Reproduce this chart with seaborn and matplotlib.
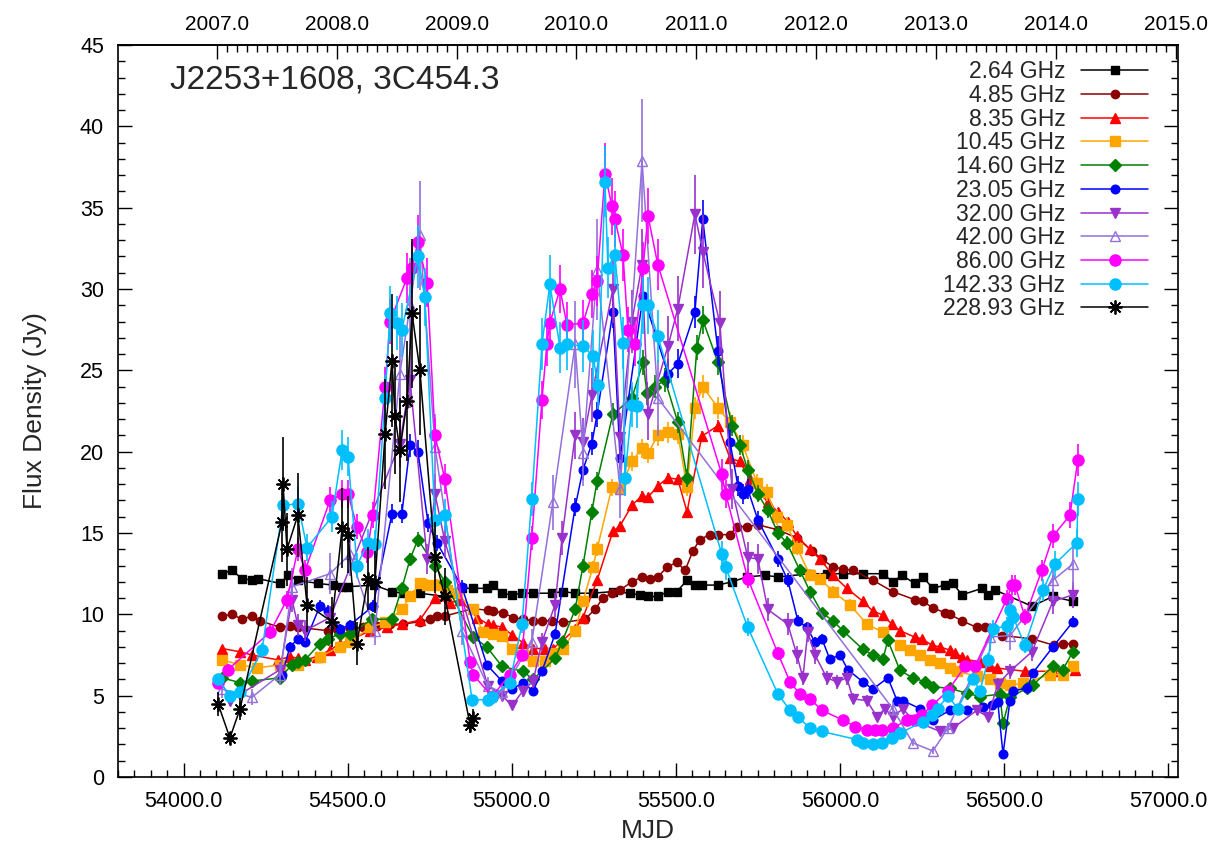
import numpy as np
import pandas as pd
import matplotlib
matplotlib.use("Agg")
import matplotlib.pyplot as plt
from matplotlib.ticker import MultipleLocator, FixedLocator, FormatStrFormatter
import seaborn as sns

# ---------------------------------------------------------------------------
# Light curves of J2253+1608 (3C454.3): MJD and flux density (Jy) per band
# ---------------------------------------------------------------------------
mjd_2_64 = [54117, 54147, 54178, 54208, 54227, 54294, 54318, 54348, 54409, 54455,
            54483, 54501, 54580, 54635, 54668, 54720, 54796, 54848, 54882, 54924,
            54943, 54970, 55001, 55031, 55065, 55122, 55156, 55193, 55247, 55308,
            55360, 55391, 55415, 55445, 55476, 55503, 55534, 55558, 55579, 55628,
            55671, 55716, 55771, 55811, 55909, 55960, 56009, 56070, 56131, 56161,
            56189, 56228, 56253, 56283, 56320, 56344, 56372, 56433, 56451, 56472,
            56585, 56649, 56710]
flux_2_64 = [12.5, 12.7, 12.2, 12.1, 12.2, 11.9, 12.4, 12.1, 11.9, 11.8,
             11.7, 11.7, 11.8, 11.4, 11.3, 11.3, 11.1, 11.6, 11.6, 11.6,
             11.8, 11.3, 11.2, 11.3, 11.3, 11.3, 11.4, 11.3, 11.3, 11.4,
             11.3, 11.2, 11.1, 11.1, 11.4, 11.4, 12.1, 11.8, 11.8, 11.8,
             12.0, 12.3, 12.4, 12.3, 12.5, 12.5, 12.5, 12.5, 12.5, 12.0,
             12.4, 11.9, 12.3, 11.6, 11.8, 11.9, 11.2, 11.6, 11.2, 11.5,
             10.5, 11.1, 10.8]

mjd_4_85 = [54117, 54147, 54178, 54208, 54233, 54294, 54324, 54348, 54440, 54467,
            54507, 54547, 54589, 54629, 54668, 54720, 54751, 54772, 54796, 54882,
            54927, 54943, 54973, 55004, 55034, 55065, 55092, 55122, 55156, 55223,
            55253, 55278, 55305, 55330, 55366, 55397, 55421, 55445, 55473, 55503,
            55528, 55552, 55573, 55603, 55628, 55665, 55686, 55716, 55750, 55811,
            55869, 55915, 55945, 55979, 56009, 56040, 56100, 56161, 56228, 56253,
            56283, 56320, 56335, 56372, 56417, 56442, 56494, 56585, 56652, 56679,
            56710]
flux_4_85 = [9.9, 10.0, 9.7, 9.9, 9.6, 9.2, 9.3, 9.2, 9.0, 9.1,
             9.15, 9.2, 9.3, 9.4, 9.4, 9.55, 9.7, 9.9, 9.9, 10.35,
             10.25, 10.2, 10.1, 9.8, 9.7, 9.6, 9.6, 9.6, 9.5, 9.7,
             10.3, 11.0, 11.3, 11.5, 12.0, 12.3, 12.2, 12.3, 12.9, 13.2,
             12.7, 13.9, 14.6, 14.9, 14.9, 14.9, 15.4, 15.4, 15.5, 15.2,
             14.7, 13.9, 13.4, 12.9, 12.8, 12.7, 12.1, 11.4, 10.9, 10.8,
             10.4, 10.1, 10.0, 9.6, 9.2, 9.2, 8.7, 8.5, 8.1, 8.2,
             8.2]

mjd_8_35 = [54117, 54172, 54208, 54288, 54324, 54348, 54370, 54406, 54446, 54476,
            54507, 54568, 54620, 54665, 54720, 54766, 54812, 54842, 54894, 54927,
            54943, 54970, 55001, 55034, 55065, 55101, 55125, 55156, 55193, 55217,
            55260, 55308, 55330, 55366, 55397, 55415, 55445, 55476, 55506, 55534,
            55579, 55628, 55665, 55695, 55725, 55750, 55780, 55811, 55841, 55869,
            55909, 55939, 55979, 56021, 56070, 56100, 56131, 56158, 56183, 56228,
            56250, 56280, 56305, 56335, 56350, 56372, 56387, 56427, 56457, 56478,
            56564, 56649, 56716]
flux_8_35 = [7.9, 7.7, 7.5, 7.2, 7.4, 7.3, 7.2, 7.4, 7.8, 8.2,
             8.4, 9.0, 9.2, 9.4, 9.65, 11.0, 10.7, 10.9, 9.8, 9.4,
             9.35, 9.2, 8.75, 8.25, 7.9, 7.9, 7.9, 8.4, 9.1, 9.8,
             12.1, 15.1, 15.45, 16.7, 17.3, 17.2, 17.9, 18.4, 18.3, 16.3,
             20.95, 21.6, 19.6, 19.4, 18.3, 17.6, 16.9, 16.3, 15.7, 14.8,
             14.0, 13.4, 12.4, 11.6, 10.8, 10.2, 9.96, 9.4, 9.0, 8.6,
             8.5, 8.1, 8.0, 7.8, 7.6, 7.4, 7.2, 7.1, 6.8, 6.7,
             6.5, 6.5, 6.6]

mjd_10_45 = [54117, 54172, 54224, 54294, 54348, 54415, 54476, 54507, 54568, 54614,
             54665, 54690, 54720, 54742, 54772, 54802, 54833, 54882, 54912, 54943,
             54970, 55001, 55034, 55065, 55101, 55125, 55156, 55193, 55217, 55247,
             55260, 55305, 55330, 55366, 55397, 55415, 55445, 55476, 55506, 55534,
             55558, 55582, 55628, 55665, 55704, 55747, 55777, 55808, 55838, 55869,
             55909, 55939, 55979, 56030, 56082, 56131, 56183, 56213, 56244, 56274,
             56305, 56335, 56356, 56417, 56457, 56487, 56518, 56558, 56640, 56679,
             56710]
flux_10_45 = [7.2, 6.9, 6.7, 6.9, 6.9, 7.4, 8.0, 8.3, 9.2, 9.5,
              10.3, 11.1, 11.9, 11.8, 11.8, 11.5, 11.3, 10.3, 8.9, 8.8,
              8.7, 7.9, 7.5, 7.15, 7.15, 7.6, 7.9, 9.0, 10.8, 12.9,
              14.0, 17.8, 17.7, 19.4, 20.2, 19.9, 21.0, 21.2, 21.1, 17.8,
              22.7, 24.0, 22.7, 21.8, 20.4, 18.1, 17.5, 16.0, 15.5, 14.1,
              12.4, 12.2, 11.4, 10.6, 9.4, 8.9, 8.1, 7.8, 7.5, 7.2,
              7.0, 6.7, 6.5, 6.2, 6.0, 5.8, 5.65, 5.75, 6.3, 6.3,
              6.8]

mjd_14_60 = [54117, 54172, 54208, 54294, 54330, 54348, 54370, 54415, 54440, 54476,
             54507, 54574, 54635, 54665, 54690, 54714, 54766, 54796, 54882, 54924,
             54970, 55034, 55065, 55132, 55153, 55193, 55217, 55244, 55260, 55308,
             55366, 55400, 55412, 55436, 55467, 55506, 55534, 55564, 55582, 55628,
             55671, 55695, 55719, 55750, 55780, 55811, 55838, 55878, 55909, 55945,
             55979, 56009, 56070, 56100, 56131, 56146, 56183, 56222, 56259, 56283,
             56335, 56387, 56427, 56487, 56497, 56518, 56570, 56588, 56649, 56679,
             56710]
flux_14_60 = [6.1, 5.8, 5.9, 6.1, 6.9, 7.1, 7.2, 8.2, 8.5, 8.8,
              8.8, 9.7, 9.7, 11.6, 13.4, 14.6, 13.0, 12.0, 8.6, 8.0,
              6.8, 6.5, 6.0, 7.3, 8.3, 10.3, 13.0, 16.3, 18.2, 22.3,
              23.3, 25.5, 23.6, 24.0, 24.4, 21.8, 18.4, 26.4, 28.1, 25.5,
              21.6, 20.4, 18.9, 17.4, 16.4, 15.0, 14.4, 12.7, 11.4, 10.1,
              9.6, 9.0, 7.85, 7.5, 7.25, 8.4, 6.55, 6.1, 5.85, 5.55,
              5.45, 5.15, 4.94, 5.1, 3.3, 4.9, 5.45, 5.66, 6.8, 6.6,
              7.7]

mjd_23_05 = [54300, 54324, 54348, 54370, 54415, 54440, 54476, 54507, 54577, 54635,
             54665, 54690, 54714, 54745, 54772, 54848, 54924, 54970, 55001, 55034,
             55065, 55092, 55132, 55193, 55217, 55244, 55260, 55308, 55330, 55400,
             55476, 55506, 55558, 55582, 55628, 55665, 55689, 55704, 55719, 55750,
             55811, 55841, 55872, 55899, 55924, 55945, 55969, 56000, 56024, 56070,
             56100, 56146, 56174, 56192, 56244, 56283, 56335, 56387, 56436, 56463,
             56481, 56497, 56518, 56527, 56570, 56588, 56649, 56710]
flux_23_05 = [6.3, 8.0, 8.5, 8.3, 10.5, 10.2, 9.1, 9.35, 10.5, 16.2,
              16.2, 20.4, 20.0, 15.6, 14.4, 11.7, 6.9, 5.9, 5.4, 5.8,
              5.3, 6.5, 8.8, 16.6, 18.9, 20.5, 22.3, 28.6, 19.6, 29.6,
              24.8, 25.4, 28.6, 34.3, 26.2, 20.6, 17.9, 17.4, 17.7, 15.8,
              13.4, 12.1, 9.6, 9.2, 8.3, 8.5, 7.25, 7.5, 6.6, 5.85,
              5.4, 6.1, 4.7, 4.7, 4.2, 3.5, 4.1, 4.1, 4.3, 4.4,
              4.6, 1.4, 4.7, 5.3, 5.45, 6.4, 8.0, 9.55]

mjd_32_00 = [54141, 54294, 54330, 54348, 54370, 54446, 54659, 54690, 54742, 54766,
             54796, 54927, 54970, 55001, 55034, 55065, 55092, 55132, 55153, 55193,
             55217, 55244, 55308, 55330, 55366, 55397, 55415, 55476, 55506, 55558,
             55582, 55634, 55671, 55719, 55750, 55780, 55841, 55869, 55887, 55902,
             55924, 55960, 55991, 56021, 56040, 56082, 56113, 56137, 56161, 56192,
             56222, 56305, 56344, 56417, 56451, 56481, 56518, 56585, 56649, 56710]
flux_32_00 = [4.7, 6.6, 10.9, 9.35, 9.0, 9.8, 20.5, 24.4, 13.4, 17.4,
              14.5, 5.6, 5.0, 4.4, 5.3, 5.9, 8.3, 10.6, 14.7, 21.0,
              20.6, 23.5, 30.0, 20.9, 28.0, 31.5, 22.3, 26.5, 28.8, 34.6,
              32.3, 27.9, 17.7, 13.5, 13.4, 10.3, 9.4, 7.5, 6.1, 8.9,
              7.5, 6.1, 5.85, 6.1, 4.8, 4.7, 3.7, 4.2, 3.7, 4.2,
              3.5, 2.8, 3.0, 4.1, 3.7, 5.7, 6.5, 7.7, 10.8, 11.2]

mjd_42_00 = [54117, 54208, 54294, 54330, 54446, 54507, 54583, 54659, 54690, 54720,
             54766, 54848, 54927, 54970, 55061, 55125, 55193, 55217, 55260, 55330,
             55397, 55445, 56161, 56222, 56283, 56329, 56457, 56518, 56649, 56710]
flux_42_00 = [5.4, 4.9, 6.3, 11.7, 12.5, 13.7, 9.0, 24.8, 29.0, 33.3,
              20.3, 9.0, 5.6, 5.2, 8.3, 16.9, 26.6, 19.9, 31.2, 17.7,
              37.9, 23.3, 4.2, 2.1, 1.6, 3.0, 8.6, 8.7, 12.1, 13.1]

mjd_86_00 = [54105, 54135, 54263, 54315, 54348, 54370, 54446, 54483, 54501, 54528,
             54559, 54577, 54614, 54629, 54681, 54696, 54714, 54742, 54766, 54796,
             54873, 54882, 54940, 54994, 55031, 55061, 55092, 55107, 55116, 55147,
             55168, 55217, 55244, 55260, 55284, 55305, 55314, 55339, 55354, 55375,
             55400, 55415, 55445, 55640, 55652, 55719, 55811, 55848, 55878, 55909,
             55945, 56009, 56046, 56082, 56107, 56128, 56161, 56204, 56228, 56250,
             56280, 56329, 56381, 56411, 56509, 56524, 56533, 56564, 56615, 56649,
             56701, 56725]
flux_86_00 = [5.8, 6.6, 8.9, 10.9, 14.0, 12.7, 17.0, 17.4, 17.4, 15.4,
              13.85, 16.1, 24.0, 28.0, 30.7, 31.3, 32.9, 30.4, 21.0, 18.3,
              7.1, 6.3, 4.95, 6.3, 7.5, 14.7, 23.2, 26.6, 27.9, 30.0,
              27.8, 27.9, 29.7, 30.5, 37.1, 35.1, 34.3, 32.1, 27.5, 26.6,
              31.3, 34.5, 31.5, 18.6, 17.4, 12.2, 7.6, 5.85, 5.1, 4.8,
              4.1, 3.5, 3.1, 2.9, 2.9, 2.9, 3.0, 3.5, 3.5, 3.8,
              4.4, 5.3, 6.8, 6.8, 10.95, 11.8, 11.8, 9.85, 12.7, 14.8,
              16.1, 19.5]

mjd_142_33 = [54105, 54141, 54172, 54239, 54303, 54348, 54376, 54452, 54483, 54501,
              54528, 54562, 54583, 54614, 54629, 54650, 54665, 54714, 54735, 54766,
              54796, 54879, 54927, 54940, 54994, 55031, 55061, 55092, 55116, 55147,
              55168, 55217, 55247, 55263, 55284, 55293, 55314, 55339, 55345, 55366,
              55381, 55400, 55415, 55445, 55640, 55652, 55719, 55811, 55848, 55872,
              55909, 55945, 56052, 56070, 56100, 56128, 56158, 56183, 56253, 56280,
              56298, 56329, 56359, 56405, 56427, 56451, 56466, 56509, 56518, 56527,
              56564, 56619, 56655, 56722, 56725]
flux_142_33 = [6.0, 5.0, 5.2, 7.8, 16.7, 16.8, 14.1, 16.0, 20.1, 19.7,
               13.0, 14.4, 14.3, 23.3, 28.5, 27.9, 27.5, 32.0, 29.5, 15.8,
               16.1, 4.75, 4.75, 4.95, 5.8, 9.4, 17.1, 26.6, 30.3, 26.4,
               26.6, 26.5, 25.9, 24.1, 36.6, 31.3, 32.1, 26.7, 18.4, 22.9,
               22.8, 29.0, 29.0, 27.1, 13.7, 12.9, 9.2, 5.1, 4.1, 3.7,
               3.0, 2.8, 2.3, 2.1, 2.0, 2.1, 2.4, 2.7, 3.4, 3.8,
               4.2, 5.0, 4.2, 6.05, 5.3, 7.2, 9.1, 9.3, 10.25, 9.85,
               8.1, 11.5, 13.1, 14.4, 17.1]

mjd_228_93 = [54105, 54141, 54172, 54300, 54303, 54315, 54348, 54376, 54452, 54483,
              54501, 54528, 54562, 54583, 54614, 54635, 54644, 54659, 54681, 54696,
              54720, 54766, 54796, 54873, 54882]
flux_228_93 = [4.5, 2.4, 4.2, 15.7, 18.0, 14.0, 16.1, 10.6, 9.55, 15.3,
               14.9, 8.2, 12.2, 12.0, 21.1, 25.6, 22.2, 20.1, 23.1, 28.5,
               25.0, 13.5, 11.1, 3.2, 3.6]

band_labels = ["2.64 GHz", "4.85 GHz", "8.35 GHz", "10.45 GHz", "14.60 GHz",
               "23.05 GHz", "32.00 GHz", "42.00 GHz", "86.00 GHz", "142.33 GHz",
               "228.93 GHz"]
# typical fractional flux uncertainty of each band
band_rel_err = [0.01, 0.01, 0.015, 0.03, 0.03, 0.035, 0.07, 0.10, 0.05, 0.06, 0.16]

# calendar years labelled along the top axis
year_ticks = [2007, 2008, 2009, 2010, 2011, 2012, 2013, 2014, 2015]

band_data = [(mjd_2_64, flux_2_64), (mjd_4_85, flux_4_85), (mjd_8_35, flux_8_35),
             (mjd_10_45, flux_10_45), (mjd_14_60, flux_14_60), (mjd_23_05, flux_23_05),
             (mjd_32_00, flux_32_00), (mjd_42_00, flux_42_00), (mjd_86_00, flux_86_00),
             (mjd_142_33, flux_142_33), (mjd_228_93, flux_228_93)]

# drawing style per band: colour, marker, marker size, filled
band_styles = [
    ("black",   "s",       5.5, True),
    ("#8b0000", "o",       6.0, True),
    ("red",     "^",       7.5, True),
    ("orange",  "s",       6.5, True),
    ("green",   "D",       5.8, True),
    ("blue",    "o",       6.2, True),
    ("#9932cc", "v",       7.5, True),
    ("#9370db", "^",       7.0, False),
    ("magenta", "o",       8.0, True),
    ("#00bfff", "o",       8.0, True),
    ("black",   (8, 2, 0), 10.0, True),
]

# ---------------------------------------------------------------------------
sns.set_theme(style="ticks")
plt.rcParams["font.family"] = ["Liberation Sans", "DejaVu Sans"]
plt.rcParams["axes.edgecolor"] = "black"
plt.rcParams["xtick.color"] = "black"
plt.rcParams["ytick.color"] = "black"
plt.rcParams["axes.linewidth"] = 1.2

fig = plt.figure(figsize=(12.14, 8.48), dpi=100)
ax = fig.add_axes([0.0972, 0.0837, 0.9703 - 0.0972, 0.9469 - 0.0837])

for i, (label, (mjd, flux), (color, marker, ms, filled), rel) in enumerate(
        zip(band_labels, band_data, band_styles, band_rel_err)):
    df = pd.DataFrame({"MJD": mjd, "Flux": flux})
    z = 2 + i
    ax.errorbar(df["MJD"], df["Flux"], yerr=df["Flux"] * rel, fmt="none",
                ecolor=color, elinewidth=1.2, capsize=0, zorder=z)
    sns.lineplot(data=df, x="MJD", y="Flux", ax=ax, sort=False, estimator=None,
                 errorbar=None, legend=False, label=label, color=color,
                 linewidth=1.1, marker=marker, markersize=ms,
                 markeredgecolor=color,
                 markerfacecolor=color if filled else "none",
                 markeredgewidth=1.3 if marker == (8, 2, 0) else 1.0,
                 zorder=z)

ax.set_xlim(53800, 57030)
ax.set_ylim(0, 45)
ax.xaxis.set_major_locator(MultipleLocator(500))
ax.xaxis.set_minor_locator(MultipleLocator(50))
ax.xaxis.set_major_formatter(FormatStrFormatter("%.1f"))
ax.yaxis.set_major_locator(MultipleLocator(5))
ax.yaxis.set_minor_locator(MultipleLocator(1))
ax.yaxis.set_major_formatter(FormatStrFormatter("%d"))
ax.tick_params(which="both", direction="in", top=False, right=True,
               labelsize=15.5, width=1.0, pad=10)
ax.tick_params(which="major", length=10)
ax.tick_params(which="minor", length=5)

ax.set_xlabel("MJD", fontsize=19, labelpad=5)
ax.set_ylabel("Flux Density (Jy)", fontsize=19, labelpad=24)


def mjd_to_year(m):
    return 2000.0 + (np.asarray(m, dtype=float) - 51544.5) / 365.25


def year_to_mjd(y):
    return 51544.5 + (np.asarray(y, dtype=float) - 2000.0) * 365.25


top = ax.secondary_xaxis("top", functions=(mjd_to_year, year_to_mjd))
top.xaxis.set_major_locator(FixedLocator(year_ticks))
top.xaxis.set_minor_locator(FixedLocator(
    [y + m / 12 for y in year_ticks[:-1] for m in range(1, 12)]))
top.xaxis.set_major_formatter(FormatStrFormatter("%.1f"))
top.tick_params(which="both", direction="in", labelsize=15, width=1.0, pad=8)
top.tick_params(which="major", length=10)
top.tick_params(which="minor", length=5)

ax.text(0.049, 0.952, "J2253+1608, 3C454.3", transform=ax.transAxes,
        fontsize=24, ha="left", va="center")

handles, labels = ax.get_legend_handles_labels()
ax.legend(handles, labels, loc="upper right", bbox_to_anchor=(0.9717, 0.979),
          markerfirst=False, frameon=False, fontsize=16.5, handlelength=2.9,
          handletextpad=0.7, labelspacing=0.03, borderpad=0, borderaxespad=0)

fig.savefig("out.png", dpi=100)
